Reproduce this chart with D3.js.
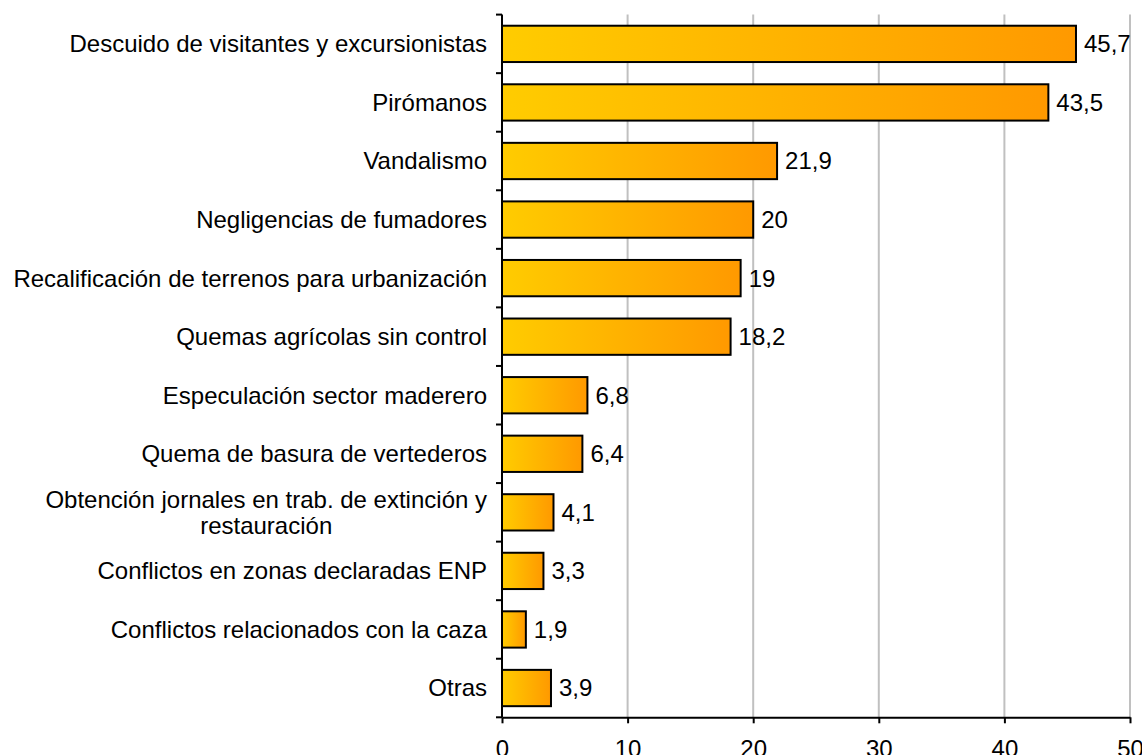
<!DOCTYPE html>
<html><head><meta charset="utf-8">
<script src="https://cdn.jsdelivr.net/npm/d3@7"></script>
<style>body{margin:0;background:#fff}svg{display:block}text{font-family:"Liberation Sans",Arial,sans-serif}</style>
</head><body><svg id="c" width="1142" height="755"></svg>
<script>
const categories = ["Descuido de visitantes y excursionistas","Pirómanos","Vandalismo","Negligencias de fumadores","Recalificación de terrenos para urbanización","Quemas agrícolas sin control","Especulación sector maderero","Quema de basura de vertederos","Obtención jornales en trab. de extinción y restauración","Conflictos en zonas declaradas ENP","Conflictos relacionados con la caza","Otras"];
const values = [45.7,43.5,21.9,20,19,18.2,6.8,6.4,4.1,3.3,1.9,3.9];
const valueLabels = ["45,7","43,5","21,9","20","19","18,2","6,8","6,4","4,1","3,3","1,9","3,9"];
const xTicks = [0,10,20,30,40,50];

(function(){
const FS = 24;
const svg = d3.select("#c");
const pLeft = 502, pRight = 1130, pTop = 14.6, pBottom = 717.3;
const x = d3.scaleLinear().domain([0,50]).range([pLeft,pRight]);
const y = d3.scaleBand().domain(categories).range([pTop,pBottom]).paddingInner(0.38).paddingOuter(0.19);

const defs = svg.append("defs");
const g = defs.append("linearGradient").attr("id","grad").attr("x1","0").attr("x2","1").attr("y1","0").attr("y2","0");
g.append("stop").attr("offset","0").attr("stop-color","#FFCC00");
g.append("stop").attr("offset","1").attr("stop-color","#FF9900");

svg.append("g").selectAll("line").data(xTicks.filter(d=>d>0)).join("line")
  .attr("x1",d=>x(d)).attr("x2",d=>x(d)).attr("y1",pTop).attr("y2",pBottom)
  .attr("stroke","#c0c0c0").attr("stroke-width",2);

svg.append("g").selectAll("rect").data(values).join("rect")
  .attr("x",x(0)).attr("y",(d,i)=>y(categories[i]))
  .attr("width",d=>x(d)-x(0)).attr("height",y.bandwidth())
  .attr("fill","url(#grad)").attr("stroke","#000").attr("stroke-width",2);

svg.append("g").selectAll("text").data(values).join("text")
  .attr("x",d=>x(d)+8).attr("y",(d,i)=>y(categories[i])+y.bandwidth()/2)
  .attr("dy","0.35em").attr("font-size",FS).attr("fill","#000")
  .text((d,i)=>valueLabels[i]);

const step = (pBottom-pTop)/categories.length;
const yAxis = svg.append("g");
yAxis.append("line").attr("x1",pLeft).attr("x2",pLeft).attr("y1",pTop).attr("y2",pBottom).attr("stroke","#000").attr("stroke-width",2);
yAxis.selectAll("line.t").data(d3.range(categories.length+1)).join("line").attr("class","t")
  .attr("x1",pLeft-6).attr("x2",pLeft).attr("y1",i=>pTop+i*step).attr("y2",i=>pTop+i*step)
  .attr("stroke","#000").attr("stroke-width",2);

const labelRight = 487, maxW = 482;
categories.forEach((c,i)=>{
  const cy = y(c)+y.bandwidth()/2;
  const t = svg.append("text").attr("font-size",FS).attr("fill","#000");
  const words = c.split(" ");
  let lines = [], cur = [];
  const probe = svg.append("text").attr("font-size",FS);
  words.forEach(w=>{
    const trial = cur.concat([w]).join(" ");
    probe.text(trial);
    if (probe.node().getComputedTextLength() > maxW && cur.length) { lines.push(cur.join(" ")); cur=[w]; }
    else cur.push(w);
  });
  lines.push(cur.join(" "));
  let wmax = 0;
  lines.forEach(l=>{probe.text(l); wmax=Math.max(wmax, probe.node().getComputedTextLength());});
  probe.remove();
  const lh = 26;
  const cx = labelRight - wmax/2;
  t.attr("text-anchor","middle");
  lines.forEach((l,k)=>{
    t.append("tspan").attr("x",cx).attr("y",cy + (k-(lines.length-1)/2)*lh).attr("dy","0.35em").text(l);
  });
});

const xa = svg.append("g").attr("transform",`translate(0,${pBottom})`)
  .call(d3.axisBottom(x).tickValues(xTicks).tickSize(6).tickSizeOuter(0).tickPadding(17));
xa.select(".domain").attr("stroke","#000").attr("stroke-width",2);
xa.selectAll(".tick line").attr("stroke","#000").attr("stroke-width",2);
xa.selectAll(".tick text").attr("font-size",FS).attr("fill","#000").attr("font-family","Liberation Sans, Arial, sans-serif");
})();
</script></body></html>
